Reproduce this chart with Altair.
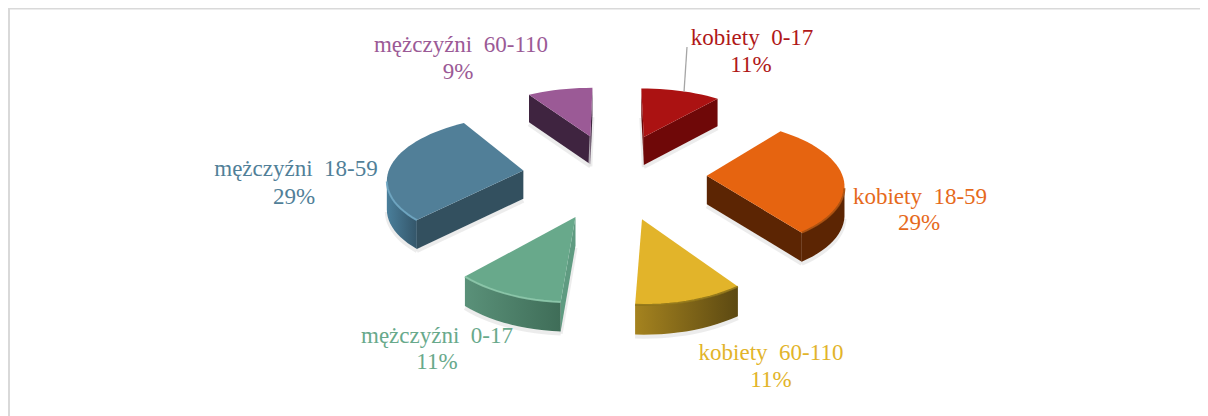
import math
import altair as alt
import pandas as pd

# ---- chart values ----
NB = "\u00a0"
categories = ["kobiety" + NB * 2 + "0-17", "kobiety" + NB * 2 + "18-59", "kobiety" + NB * 2 + "60-110",
              "mężczyźni" + NB * 2 + "0-17", "mężczyźni" + NB * 2 + "18-59", "mężczyźni" + NB * 2 + "60-110"]
shares = [11, 29, 11, 11, 29, 9]
percent_labels = ["11%", "29%", "11%", "11%", "29%", "9%"]
title_text = "Rodzaj wiekowy i płciowy mieszkańców mieszkających w Ossa wioja"

top_colors = ["#ab1212", "#e66410", "#e2b42a", "#68a98b", "#517f98", "#9b5a96"]
wall_colors = ["#6f0808", "#5c2503", "#5f4c12", "#5f9b81", "#33505f", "#3f2440"]
arc_paints = [
    None,
    "#5c2503",
    ("#a5831f", "#5c4912"),
    ("#5a9179", "#3f6d58"),
    ("#4a7f9b", "#34566a"),
    None,
]
rim_colors = [None, "#a8500f", "#8f7418", "#8cc7aa", "#6fa6c2", None]
text_colors = ["#b01818", "#e66a1c", "#e2b42a", "#68a98b", "#517f98", "#9b5a96"]

# label centres in page pixels (two lines per slice)
label_x = [752, 920, 771, 437, 296, 461]
label_y1 = [38, 197, 353, 336, 169, 45]
label_y2 = [65, 223, 380, 362, 197, 72]
percent_x = [751, 919, 771, 437, 294, 458]

# ---- 3D pie projection ----
CX, CY = 614.5, 174.5
BX, AY = 135.5, 63
PERSP_X = 0.10
PERSP_Y = 0.122
EXPLODE = 0.68
DEPTH = 27

W, H = 1192, 408


def project(u, v, drop=0.0):
    sx = 1 / (1 + PERSP_X * v)
    sy = 1 / (1 + PERSP_Y * v)
    return (CX + BX * u * sx, CY - AY * v * sy + drop * (0.85 + 0.2 * sy))


def outline(a0, a1):
    mid = math.radians((a0 + a1) / 2)
    ou, ov = EXPLODE * math.sin(mid), EXPLODE * math.cos(mid)
    n = max(4, int((a1 - a0) / 3))
    pts = [(ou, ov)]
    for k in range(n + 1):
        a = math.radians(a0 + (a1 - a0) * k / n)
        pts.append((ou + math.sin(a), ov + math.cos(a)))
    return pts


X = alt.X("x:Q", scale=alt.Scale(domain=[8, 8 + W], range=[0, W], nice=False, zero=False), axis=None)
Y = alt.Y("y:Q", scale=alt.Scale(domain=[8, 8 + H], range=[0, H], nice=False, zero=False), axis=None)


def paint(p):
    if isinstance(p, tuple):
        return alt.LinearGradient(gradient="linear", x1=0, x2=1, y1=0, y2=0,
                                  stops=[alt.GradientStop(color=p[0], offset=0),
                                         alt.GradientStop(color=p[1], offset=1)])
    return p


def frame(points):
    return pd.DataFrame({"x": [q[0] for q in points], "y": [q[1] for q in points],
                         "i": list(range(len(points)))})


def poly(points, p):
    return alt.Chart(frame(points)).mark_line(filled=True, color=paint(p), interpolate="linear").encode(
        x=X, y=Y, order=alt.Order("i:Q"))


def edge(points, color, w=1.5, op=1.0):
    return alt.Chart(frame(points)).mark_line(color=color, strokeWidth=w, opacity=op).encode(
        x=X, y=Y, order=alt.Order("i:Q"))


layers = []
total = sum(shares)
angle = 0.0
leader_end = None
for idx, sh in enumerate(shares):
    a0, a1 = angle, angle + 360 * sh / total
    angle = a1
    pts = outline(a0, a1)
    top = [project(u, v) for u, v in pts]
    low = [project(u, v, DEPTH) for u, v in pts]
    n = len(pts)
    if idx == 0:
        leader_end = top[1 + (n - 1) // 2]
    arc_run = [k for k in range(1, n - 1) if top[k + 1][0] < top[k][0]]
    # soft contact shadow under the visible lower edge
    if arc_run:
        seq = arc_run + [arc_run[-1] + 1]
        layers.append(edge([(q[0], q[1] + 2) for q in (low[k] for k in seq)], "#e4e4e4", 4, 0.7))
    if top[1][0] < top[0][0]:
        layers.append(edge([(low[0][0], low[0][1] + 2), (low[1][0], low[1][1] + 2)], "#e4e4e4", 4, 0.7))
        layers.append(poly([top[0], top[1], low[1], low[0]], wall_colors[idx]))
    if top[0][0] < top[-1][0]:
        layers.append(edge([(low[-1][0], low[-1][1] + 2), (low[0][0], low[0][1] + 2)], "#e4e4e4", 4, 0.7))
        layers.append(poly([top[-1], top[0], low[0], low[-1]], wall_colors[idx]))
    if arc_run and arc_paints[idx] is not None:
        seq = arc_run + [arc_run[-1] + 1]
        layers.append(poly([top[k] for k in seq] + [low[k] for k in reversed(seq)], arc_paints[idx]))
    layers.append(poly(top, top_colors[idx]))
    if arc_run and rim_colors[idx] is not None:
        seq = arc_run + [arc_run[-1] + 1]
        layers.append(edge([top[k] for k in seq], rim_colors[idx], 2, 0.9))

# leader line of the first label
layers.append(edge([(687, 47), leader_end], "#a6a6a6", 1.3))

text_df = pd.DataFrame({
    "x": label_x + percent_x,
    "y": label_y1 + label_y2,
    "t": categories + percent_labels,
    "c": text_colors + text_colors,
})
layers.append(alt.Chart(text_df).mark_text(font="Liberation Serif", fontSize=23, align="center", baseline="middle").encode(
    x=X, y=Y, text="t:N", color=alt.Color("c:N", scale=None)))

# title, cut by the top edge of the picture as in the reference
layers.append(alt.Chart(pd.DataFrame({"x": [620], "y": [-6], "t": [title_text]})).mark_text(
    font="Liberation Serif", fontSize=22, fontWeight="bold", align="center", baseline="middle").encode(
    x=X, y=Y, text="t:N"))

# frame (top and left edges)
layers.append(alt.Chart(pd.DataFrame({"a": [1]})).mark_rule(color="#d9d9d9", strokeWidth=2).encode(
    x=alt.value(1), y=alt.value(0), y2=alt.value(H)))
layers.append(alt.Chart(pd.DataFrame({"a": [1]})).mark_rule(color="#d9d9d9", strokeWidth=2).encode(
    y=alt.value(0.5), x=alt.value(0), x2=alt.value(W)))

chart = alt.layer(*layers).properties(
    width=W, height=H, padding=0, autosize=alt.AutoSizeParams(type="none"), background="white"
).configure_view(stroke=None)

chart.save("out.html", embed_options={"renderer": "svg", "actions": False})
